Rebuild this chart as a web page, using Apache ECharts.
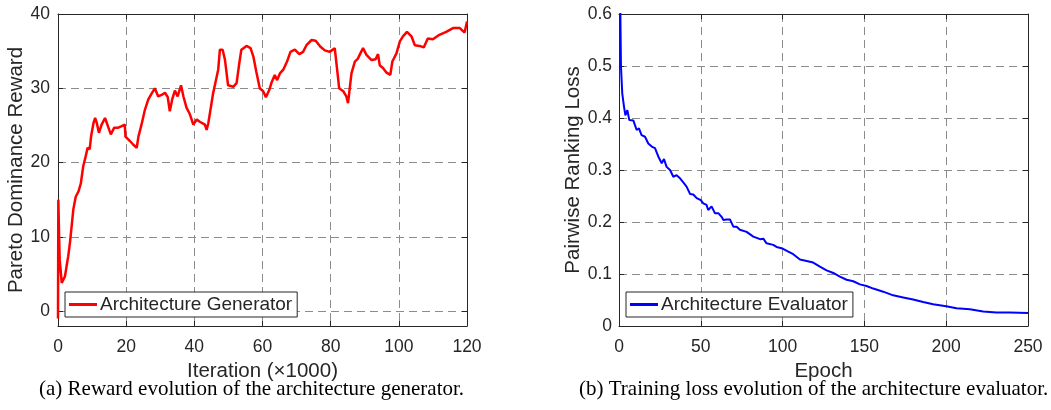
<!DOCTYPE html>
<html>
<head>
<meta charset="utf-8">
<script src="https://cdn.jsdelivr.net/npm/echarts@6/dist/echarts.min.js"></script>
<style>html,body{margin:0;padding:0;background:#fff;}#c{width:1051px;height:410px;}</style>
</head>
<body>
<div id="c"></div>
<script>
// Left: reward of architecture generator (iteration x1000)
var genX = [0, 0.1, 0.3, 0.5, 1.1, 1.6, 2.05, 2.5, 3.0, 3.5, 4.0, 4.5, 5.2, 6.0, 6.7, 7.4, 8.1, 8.7, 9.3, 9.7, 10.4, 10.9, 11.4, 12.0, 12.8, 13.8, 14.8, 15.5, 16.5, 17.7, 18.7, 19.6, 19.8, 21.1, 22.1, 23.1, 23.6, 24.5, 25.5, 26.5, 27.5, 28.4, 29.4, 30.4, 31.4, 32.2, 32.8, 33.5, 34.3, 35.1, 36.1, 36.8, 37.7, 38.7, 39.7, 40.7, 41.6, 43.1, 43.6, 44.1, 45.5, 47.0, 47.5, 48.3, 49.0, 49.9, 51.4, 52.4, 53.2, 53.8, 55.3, 56.5, 57.3, 58.2, 59.2, 60.2, 61.0, 62.0, 62.6, 63.6, 64.3, 65.1, 66.1, 67.2, 68.2, 69.5, 70.8, 71.9, 72.9, 74.4, 75.6, 77.0, 78.3, 79.7, 81.2, 81.9, 82.5, 83.7, 84.6, 85.1, 86.1, 87.1, 88.0, 88.5, 89.5, 90.5, 92.0, 93.2, 93.9, 94.4, 95.4, 96.4, 97.5, 98.1, 99.3, 100.3, 101.2, 102.4, 103.7, 104.7, 106.1, 107.3, 108.5, 110.0, 111.9, 113.9, 115.9, 117.9, 119.3, 119.8, 120];
var genY = [-1, 15, 10.5, 6.9, 3.8, 3.6, 4.7, 6.0, 7.4, 9.2, 11.4, 13.7, 15.4, 16.1, 17.2, 19.5, 20.8, 22.0, 21.8, 23.5, 25.3, 26.0, 25.3, 24.0, 25.1, 26.0, 24.7, 23.8, 24.7, 24.7, 24.9, 25.1, 23.5, 22.9, 22.4, 22.0, 23.5, 25.1, 27.1, 28.5, 29.3, 30.0, 28.9, 29.1, 29.4, 28.8, 26.9, 28.5, 29.7, 28.9, 30.4, 28.9, 27.4, 26.5, 25.1, 25.8, 25.5, 25.1, 24.4, 25.3, 29.3, 32.5, 35.2, 35.2, 33.8, 30.4, 30.2, 30.7, 33.4, 35.2, 35.7, 35.4, 34.3, 32.2, 30.0, 29.6, 28.8, 29.8, 30.7, 31.8, 31.1, 32.0, 32.5, 33.6, 34.9, 35.2, 34.6, 34.9, 35.8, 36.5, 36.4, 35.6, 35.1, 34.9, 35.4, 32.5, 30.0, 29.6, 28.9, 28.0, 32.0, 33.6, 34.0, 34.5, 35.4, 34.5, 33.8, 33.9, 34.6, 33.1, 32.7, 32.1, 31.8, 33.6, 34.7, 36.3, 37.0, 37.6, 37.0, 35.8, 35.7, 35.5, 36.7, 36.6, 37.2, 37.6, 38.1, 38.1, 37.5, 37.6, 39.0];
// Right: pairwise ranking loss of architecture evaluator (epoch)
var evalX = [0.3, 1.2, 2.0, 3.05, 3.9, 5.1, 6.3, 8.8, 10.8, 12.2, 13.8, 15.9, 17.9, 20.0, 22.0, 24.0, 26.1, 27.5, 29.1, 31.2, 33.2, 35.2, 37.3, 39.3, 41.3, 43.4, 45.4, 47.5, 50, 51.5, 53.5, 54.5, 56.6, 58.6, 60.7, 62.7, 63.8, 65.8, 67.8, 69.9, 71.9, 73.9, 78.0, 82.1, 86.2, 88.2, 90.2, 94.3, 96.3, 100, 103.5, 106.5, 110.6, 114.7, 118.7, 122.8, 126.9, 131.0, 135.0, 139.1, 143.2, 147.3, 151.3, 155.4, 161.5, 167.6, 173.7, 179.8, 185.9, 192.0, 200, 206.3, 214.5, 222.6, 230.7, 238.8, 250];
var evalY = [0.75, 0.499, 0.447, 0.422, 0.405, 0.415, 0.396, 0.395, 0.377, 0.380, 0.367, 0.364, 0.351, 0.345, 0.342, 0.326, 0.313, 0.321, 0.306, 0.300, 0.287, 0.290, 0.284, 0.276, 0.268, 0.254, 0.253, 0.246, 0.242, 0.236, 0.233, 0.223, 0.230, 0.217, 0.217, 0.210, 0.204, 0.205, 0.205, 0.191, 0.191, 0.185, 0.181, 0.172, 0.167, 0.168, 0.159, 0.156, 0.152, 0.149, 0.143, 0.138, 0.128, 0.125, 0.122, 0.114, 0.107, 0.102, 0.095, 0.089, 0.086, 0.080, 0.077, 0.072, 0.066, 0.059, 0.055, 0.051, 0.046, 0.042, 0.038, 0.034, 0.032, 0.028, 0.026, 0.026, 0.025];
var genTicks = [0, 10, 20, 30, 40];
var evalTicks = [0, 0.1, 0.2, 0.3, 0.4, 0.5, 0.6];

function zip(a, b) { return a.map(function (v, i) { return [v, b[i]]; }); }

var FONT = 'Liberation Sans';
var TXT = '#262626';
var TICKFS = 17.5;
var NAMEFS = 20.5;
var gridLine = { show: true, lineStyle: { color: '#8c8c8c', width: 1, type: [8, 5] } };
function mainAxis(extra) {
  return Object.assign({
    type: 'value',
    axisLine: { show: true, onZero: false, lineStyle: { color: TXT, width: 1 } },
    axisTick: { show: true, inside: true, length: 5, lineStyle: { color: TXT } },
    axisLabel: { color: TXT, fontFamily: FONT, fontSize: TICKFS, margin: 12 },
    splitLine: gridLine,
    nameTextStyle: { color: TXT, fontFamily: FONT, fontSize: NAMEFS },
    nameLocation: 'middle'
  }, extra);
}
function boxAxis(extra) {
  return Object.assign({
    type: 'value',
    axisLine: { show: true, onZero: false, lineStyle: { color: TXT, width: 1 } },
    axisTick: { show: true, inside: true, length: 5, lineStyle: { color: TXT } },
    axisLabel: { show: false },
    splitLine: { show: false }
  }, extra);
}
function legendFor(name, left) {
  return { data: [name], left: left, top: 292, orient: 'vertical',
    itemWidth: 28, itemHeight: 3, itemGap: 0, padding: [3, 5, 3, 4],
    borderColor: TXT, borderWidth: 1, backgroundColor: '#fff', borderRadius: 0,
    textStyle: { color: TXT, fontFamily: FONT, fontSize: 19, padding: [0, 0, 0, -2] }, icon: 'rect' };
}

var option = {
  animation: false,
  backgroundColor: '#fff',
  grid: [
    { left: 58, top: 14, width: 409, height: 312 },
    { left: 619, top: 14, width: 409, height: 312 }
  ],
  xAxis: [
    mainAxis({ gridIndex: 0, min: 0, max: 120, interval: 20, name: 'Iteration (\u00d71000)', nameGap: 33 }),
    mainAxis({ gridIndex: 1, min: 0, max: 250, interval: 50, name: 'Epoch', nameGap: 33 }),
    boxAxis({ gridIndex: 0, position: 'top', min: 0, max: 120, interval: 20 }),
    boxAxis({ gridIndex: 1, position: 'top', min: 0, max: 250, interval: 50 })
  ],
  yAxis: [
    mainAxis({ gridIndex: 0, min: -2, max: 40, name: 'Pareto Dominance Reward', nameGap: 30,
      axisLabel: { color: TXT, fontFamily: FONT, fontSize: TICKFS, margin: 8,
        formatter: function (v) { return genTicks.indexOf(v) >= 0 ? String(v) : ''; } } }),
    mainAxis({ gridIndex: 1, min: 0, max: 0.6, interval: 0.1, name: 'Pairwise Ranking Loss', nameGap: 35,
      axisLabel: { color: TXT, fontFamily: FONT, fontSize: TICKFS, margin: 7,
        formatter: function (v) { return v === 0 ? '0' : v.toFixed(1); } } }),
    boxAxis({ gridIndex: 0, position: 'right', min: -2, max: 40 }),
    boxAxis({ gridIndex: 1, position: 'right', min: 0, max: 0.6, interval: 0.1 })
  ],
  legend: [
    legendFor('Architecture Generator', 65),
    legendFor('Architecture Evaluator', 626)
  ],
  series: [
    { name: 'Architecture Generator', type: 'line', xAxisIndex: 0, yAxisIndex: 0,
      data: zip(genX, genY), showSymbol: false, symbol: 'none', clip: true,
      lineStyle: { color: '#ff0000', width: 2.5 }, itemStyle: { color: '#ff0000' } },
    { name: 'Architecture Evaluator', type: 'line', xAxisIndex: 1, yAxisIndex: 1,
      data: zip(evalX, evalY), showSymbol: false, symbol: 'none', clip: true,
      lineStyle: { color: '#0000ff', width: 2 }, itemStyle: { color: '#0000ff' } }
  ],
  graphic: [
    { type: 'text', left: 39, top: 379, style: { text: '(a) Reward evolution of the architecture generator.', fill: '#000', font: '21px "Liberation Serif"' } },
    { type: 'text', left: 579, top: 379, style: { text: '(b) Training loss evolution of the architecture evaluator.', fill: '#000', font: '21px "Liberation Serif"' } }
  ]
};
var chart = echarts.init(document.getElementById('c'), null, { renderer: 'canvas' });
chart.setOption(option);
</script>
</body>
</html>
